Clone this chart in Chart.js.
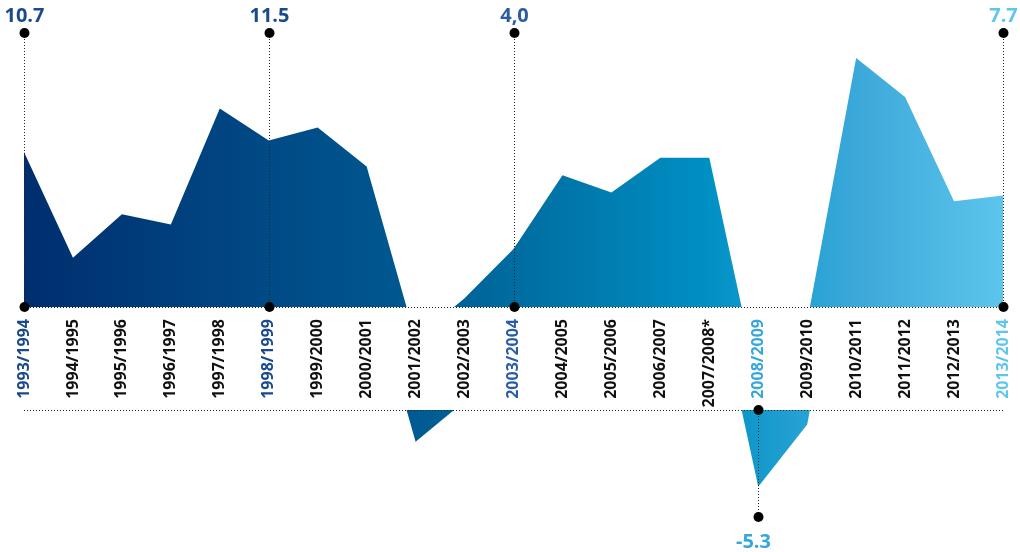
<!DOCTYPE html>
<html>
<head>
<meta charset="utf-8">
<script src="https://cdn.jsdelivr.net/npm/chart.js@4/dist/chart.umd.min.js"></script>
<style>
    body { margin: 0; background: #fff; }
    #wrap { position: relative; width: 1020px; height: 552px; }
    #oben { position: absolute; left: 0; top: 0; width: 1020px; height: 420px; }
    #unten { position: absolute; left: 0; top: 400px; width: 1020px; height: 152px; }
</style>
</head>
<body>
<div id="wrap">
    <div id="oben"><canvas id="chartOben"></canvas></div>
    <div id="unten"><canvas id="chartUnten"></canvas></div>
</div>
<script>
const seasons = [
    "1993/1994", "1994/1995", "1995/1996", "1996/1997", "1997/1998", "1998/1999",
    "1999/2000", "2000/2001", "2001/2002", "2002/2003", "2003/2004", "2004/2005",
    "2005/2006", "2006/2007", "2007/2008*", "2008/2009", "2009/2010", "2010/2011",
    "2011/2012", "2012/2013", "2013/2014",
];
const growth = [
    10.7, 3.4, 6.4, 5.7, 13.7, 11.5, 12.4, 9.7, -2.2, 0.6, 4.0,
    9.1, 7.9, 10.3, 10.3, -5.3, -1.0, 17.2, 14.5, 7.3, 7.7,
];
const calloutIndex = [0, 5, 10, 15, 20];
const calloutText = ["10.7", "11.5", "4,0", "-5.3", "7.7"];
const calloutColor = ["#1b4a8c", "#1b4a8c", "#2a5ca6", "#36a6dc", "#5ec6ee"];

const yMax = 21.2;
const yMin = -yMax * 142 / 307;

function verlauf(context) {
    const area = context.chart.chartArea;
    if (!area) return "#0070a5";
    const g = context.chart.ctx.createLinearGradient(area.left, 0, area.right, 0);
    g.addColorStop(0, "#002e6e");
    g.addColorStop(0.25, "#004a86");
    g.addColorStop(0.38, "#00578f");
    g.addColorStop(0.5, "#006ca0");
    g.addColorStop(0.7, "#0090c4");
    g.addColorStop(0.8, "#28a2d4");
    g.addColorStop(0.86, "#3eaada");
    g.addColorStop(1, "#5cc5ec");
    return g;
}

function punktiert(ctx, x1, y1, x2, y2) {
    ctx.save();
    ctx.strokeStyle = "#222";
    ctx.lineWidth = 1;
    ctx.setLineDash([1, 2]);
    ctx.beginPath();
    ctx.moveTo(x1, y1);
    ctx.lineTo(x2, y2);
    ctx.stroke();
    ctx.restore();
}

function punkt(ctx, x, y) {
    ctx.save();
    ctx.fillStyle = "#000";
    ctx.beginPath();
    ctx.arc(x, y, 5, 0, Math.PI * 2);
    ctx.fill();
    ctx.restore();
}

function beschriften(ctx, text, color, x, y) {
    ctx.save();
    ctx.font = "bold 20px 'Open Sans'";
    ctx.fillStyle = color;
    ctx.textAlign = "center";
    ctx.textBaseline = "alphabetic";
    ctx.fillText(text, x, y);
    ctx.restore();
}

const markierungOben = {
    id: "markierungOben",
    afterDatasetsDraw(chart) {
        const ctx = chart.ctx;
        const area = chart.chartArea;
        const x = chart.scales.x;
        punktiert(ctx, area.left, area.bottom + 0.5, area.right, area.bottom + 0.5);
        calloutIndex.forEach((idx, k) => {
            if (growth[idx] < 0) return;
            const px = Math.round(x.getPixelForValue(idx)) + 0.5;
            punktiert(ctx, px, 33, px, area.bottom);
            punkt(ctx, px, 33);
            punkt(ctx, px, area.bottom);
            beschriften(ctx, calloutText[k], calloutColor[k], px, 22);
        });
    },
};

const markierungUnten = {
    id: "markierungUnten",
    afterDatasetsDraw(chart) {
        const ctx = chart.ctx;
        const area = chart.chartArea;
        const x = chart.scales.x;
        punktiert(ctx, area.left, area.top + 0.5, area.right, area.top + 0.5);
        calloutIndex.forEach((idx, k) => {
            if (growth[idx] >= 0) return;
            const px = Math.round(x.getPixelForValue(idx)) + 0.5;
            punktiert(ctx, px, area.top, px, area.top + 107);
            punkt(ctx, px, area.top);
            punkt(ctx, px, area.top + 107);
            beschriften(ctx, calloutText[k], calloutColor[k], px - 5, area.top + 138);
        });
    },
};

new Chart(document.getElementById("chartOben"), {
    type: "line",
    data: {
        labels: seasons,
        datasets: [
            {
                data: growth,
                backgroundColor: verlauf,
                borderWidth: 0,
                borderColor: "rgba(0,0,0,0)",
                pointRadius: 0,
                tension: 0,
                fill: { target: "origin", below: "rgba(0,0,0,0)" },
            },
        ],
    },
    options: {
        responsive: true,
        maintainAspectRatio: false,
        animation: false,
        layout: { padding: { left: 24, right: 17, top: 0, bottom: 0 } },
        plugins: { legend: { display: false }, tooltip: { enabled: false } },
        scales: {
            x: {
                grid: { display: false, drawTicks: false },
                border: { display: false },
                afterFit(scale) {
                    scale.height = 113;
                    scale.paddingLeft = 0;
                    scale.paddingRight = 0;
                },
                ticks: {
                    autoSkip: false,
                    minRotation: 90,
                    maxRotation: 90,
                    padding: 12,
                    font: { family: "'Open Sans'", size: 16, weight: "bold" },
                    color: (c) => {
                        const k = calloutIndex.indexOf(c.index);
                        return k >= 0 ? calloutColor[k] : "#111";
                    },
                },
            },
            y: { display: false, min: 0, max: yMax },
        },
    },
    plugins: [markierungOben],
});

new Chart(document.getElementById("chartUnten"), {
    type: "line",
    data: {
        labels: seasons,
        datasets: [
            {
                data: growth,
                backgroundColor: verlauf,
                borderWidth: 0,
                borderColor: "rgba(0,0,0,0)",
                pointRadius: 0,
                tension: 0,
                fill: { target: "origin", above: "rgba(0,0,0,0)" },
            },
        ],
    },
    options: {
        responsive: true,
        maintainAspectRatio: false,
        animation: false,
        layout: { padding: { left: 24, right: 17, top: 10, bottom: 0 } },
        plugins: { legend: { display: false }, tooltip: { enabled: false } },
        scales: {
            x: { display: false },
            y: { display: false, min: yMin, max: 0 },
        },
    },
    plugins: [markierungUnten],
});
</script>
</body>
</html>
